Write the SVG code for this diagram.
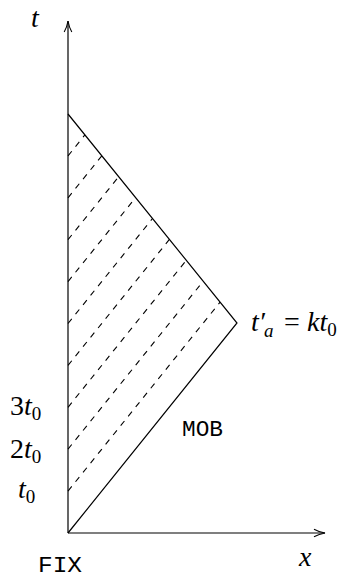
<svg xmlns="http://www.w3.org/2000/svg" width="345" height="578" viewBox="0 0 345 578">
<style>
.ax{stroke:#000;stroke-width:1.2;fill:none}
.sol{stroke:#000;stroke-width:1.2;fill:none}
.dash{stroke:#000;stroke-width:1.1;fill:none;stroke-dasharray:6 6}
.m{font-family:"Liberation Serif","DejaVu Serif",serif;font-size:28px;fill:#000}
.i{font-style:italic}
.sub{font-size:19px}
.tt{font-family:"Liberation Mono","DejaVu Sans Mono",monospace;font-size:22px;fill:#000}
</style>
<defs>
<marker id="arr" markerWidth="14" markerHeight="10" refX="12" refY="5" orient="auto" markerUnits="userSpaceOnUse">
<path d="M1,1.2 Q6,4 12,5 Q6,6 1,8.8" fill="none" stroke="#000" stroke-width="1.1"/>
</marker>
</defs>
<g id="connectors">
<line class="ax" x1="68" y1="533" x2="68" y2="21" marker-end="url(#arr)"/>
<line class="ax" x1="68" y1="533" x2="325" y2="533" marker-end="url(#arr)"/>
<polyline class="sol" points="68,533 237,323 68,114"/>
<line class="dash" x1="68" y1="491.1" x2="220.1" y2="302.1"/>
<line class="dash" x1="68" y1="449.2" x2="203.2" y2="281.2"/>
<line class="dash" x1="68" y1="407.3" x2="186.3" y2="260.3"/>
<line class="dash" x1="68" y1="365.4" x2="169.4" y2="239.4"/>
<line class="dash" x1="68" y1="323.5" x2="152.5" y2="218.5"/>
<line class="dash" x1="68" y1="281.6" x2="135.6" y2="197.6"/>
<line class="dash" x1="68" y1="239.7" x2="118.7" y2="176.7"/>
<line class="dash" x1="68" y1="197.8" x2="101.8" y2="155.8"/>
<line class="dash" x1="68" y1="155.9" x2="84.9" y2="134.9"/>
</g>
<g id="label-t"><text class="m i" x="31" y="27">t</text></g>
<g id="label-x"><text class="m i" x="299" y="566">x</text></g>
<g id="label-3t0"><text class="m" x="10" y="415">3<tspan class="i">t</tspan><tspan class="sub" dy="5">0</tspan></text></g>
<g id="label-2t0"><text class="m" x="10" y="458">2<tspan class="i">t</tspan><tspan class="sub" dy="5">0</tspan></text></g>
<g id="label-t0"><text class="m" x="18" y="498"><tspan class="i">t</tspan><tspan class="sub" dy="5">0</tspan></text></g>
<g id="label-ta"><text class="m" x="251" y="331"><tspan class="i">t′</tspan><tspan class="sub i" x="264" dy="6">a</tspan><tspan x="284" dy="-6">=</tspan><tspan class="i" x="307">kt</tspan><tspan class="sub" dy="5">0</tspan></text></g>
<g id="node-MOB"><text class="tt" x="182" y="436" textLength="41" lengthAdjust="spacingAndGlyphs">MOB</text></g>
<g id="node-FIX"><text class="tt" x="38" y="572" textLength="44" lengthAdjust="spacingAndGlyphs">FIX</text></g>
</svg>
